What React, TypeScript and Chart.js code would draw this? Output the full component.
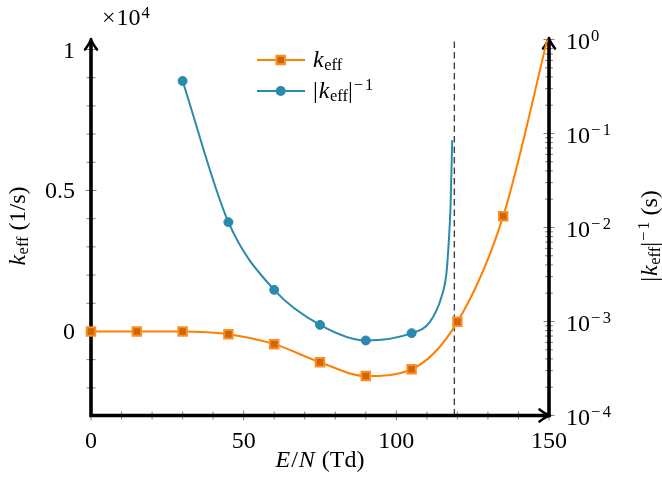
import React, { useEffect, useRef } from "react";
import { Chart, registerables } from "chart.js";

Chart.register(...registerables);

// ---- data ----
// reduced electric field E/N (Td) for k_eff samples
const keffX = [0, 15, 30, 45, 60, 75, 90, 105, 120, 135, 150];
// k_eff in units of 10^4 1/s
const keffValues = [0, 0, 0, -0.01, -0.045, -0.109, -0.158, -0.134, 0.034, 0.409, 1.06];
// E/N samples for |k_eff|^-1 (the last ones trace the steep rise before the zero crossing)
const invX = [30, 45, 60, 75, 90, 105, 111, 114.8, 116.4, 117.2, 117.75, 118.3];
// |k_eff|^-1 in seconds
const invValues = [0.362, 0.0114, 0.00217, 0.00092, 0.000628, 0.000751, 0.00099, 0.00183, 0.00325, 0.0073, 0.0166, 0.085];
// E/N values that carry a circle marker on the |k_eff|^-1 curve
const invMarkedX = [30, 45, 60, 75, 90, 105];
// vertical dashed line position (E/N where k_eff crosses zero)
const crossingX = 119;

const xMajorTicks = [0, 50, 100, 150];
const xMinorTicks = [10, 20, 30, 40, 60, 70, 80, 90, 110, 120, 130, 140];
const leftMajorTicks = [0, 0.5, 1];
const leftTickLabels = ["0", "0.5", "1"];
const leftMinorTicks = [-0.2, -0.1, 0.1, 0.2, 0.3, 0.4, 0.6, 0.7, 0.8, 0.9];
const rightExponents = [-4, -3, -2, -1, 0];

const ORANGE = "#ff8000";
const ORANGE_FILL = "#cc6600";
const ORANGE_EDGE = "#ff8c26";
const BLUE = "#2a8aad";

const F = 24;
const FS = 16.5;
const FAM = `"Liberation Serif", "Times New Roman", Times, serif`;
const RM = `${F}px ${FAM}`;
const IT = `italic ${F}px ${FAM}`;
const SM = `${FS}px ${FAM}`;

type Seg = { t: string; font: string; dy?: number; gap?: number };

function richWidth(ctx: CanvasRenderingContext2D, segs: Seg[]) {
  let w = 0;
  for (const s of segs) {
    ctx.font = s.font;
    w += ctx.measureText(s.t).width + (s.gap || 0);
  }
  return w;
}

function drawRich(ctx: CanvasRenderingContext2D, segs: Seg[], x: number, y: number) {
  let cx = x;
  for (const s of segs) {
    ctx.font = s.font;
    ctx.fillText(s.t, cx, y + (s.dy || 0));
    cx += ctx.measureText(s.t).width + (s.gap || 0);
  }
}

function arrowUp(ctx: CanvasRenderingContext2D, x: number, tipY: number) {
  ctx.beginPath();
  ctx.moveTo(x - 6, tipY + 10.5);
  ctx.quadraticCurveTo(x - 1, tipY + 4, x, tipY);
  ctx.quadraticCurveTo(x + 1, tipY + 4, x + 6, tipY + 10.5);
  ctx.stroke();
}

function arrowRight(ctx: CanvasRenderingContext2D, tipX: number, y: number) {
  ctx.beginPath();
  ctx.moveTo(tipX - 10.5, y - 6);
  ctx.quadraticCurveTo(tipX - 4, y - 1, tipX, y);
  ctx.quadraticCurveTo(tipX - 4, y + 1, tipX - 10.5, y + 6);
  ctx.stroke();
}

const decoPlugin = {
  id: "deco",
  beforeDatasetsDraw(chart: any) {
    const { ctx, chartArea: a, scales } = chart;
    const xs = scales.x;
    const yl = scales.y;
    const yr = scales.y2;
    ctx.save();

    // dashed vertical line
    const dx = xs.getPixelForValue(crossingX);
    ctx.strokeStyle = "#404040";
    ctx.lineWidth = 1.4;
    ctx.setLineDash([6.5, 4]);
    ctx.beginPath();
    ctx.moveTo(dx, a.top + 2);
    ctx.lineTo(dx, a.bottom);
    ctx.stroke();
    ctx.setLineDash([]);

    // ticks
    ctx.strokeStyle = "#808080";
    ctx.lineWidth = 1;
    const hTick = (x: number, y: number, l: number) => {
      ctx.beginPath();
      ctx.moveTo(x - l, y);
      ctx.lineTo(x + l, y);
      ctx.stroke();
    };
    const vTick = (x: number, y: number, l: number) => {
      ctx.beginPath();
      ctx.moveTo(x, y - l);
      ctx.lineTo(x, y + l);
      ctx.stroke();
    };
    for (const v of xMajorTicks) vTick(xs.getPixelForValue(v), a.bottom, 5);
    for (const v of xMinorTicks) vTick(xs.getPixelForValue(v), a.bottom, 4);
    for (const v of leftMajorTicks) hTick(a.left, yl.getPixelForValue(v), 5.5);
    for (const v of leftMinorTicks) hTick(a.left, yl.getPixelForValue(v), 4.5);
    for (const e of rightExponents) {
      hTick(a.right, yr.getPixelForValue(Math.pow(10, e)), 5.5);
      if (e < 0) {
        for (let m = 2; m <= 9; m++) hTick(a.right, yr.getPixelForValue(m * Math.pow(10, e)), 4);
      }
    }

    // axis lines
    ctx.strokeStyle = "#000";
    ctx.lineWidth = 3.6;
    ctx.lineCap = "butt";
    ctx.beginPath();
    ctx.moveTo(a.left, a.bottom + 1.8);
    ctx.lineTo(a.left, a.top + 2);
    ctx.moveTo(a.left - 1.8, a.bottom);
    ctx.lineTo(a.right - 2, a.bottom);
    ctx.moveTo(a.right, a.bottom + 1.8);
    ctx.lineTo(a.right, a.top + 2);
    ctx.stroke();
    ctx.lineWidth = 2.6;
    ctx.lineCap = "round";
    ctx.lineJoin = "round";
    arrowUp(ctx, a.left, a.top - 0.5);
    arrowUp(ctx, a.right, a.top - 1.5);
    arrowRight(ctx, a.right + 1, a.bottom);

    // tick labels
    ctx.fillStyle = "#000";
    ctx.textBaseline = "alphabetic";
    ctx.font = RM;
    ctx.textAlign = "center";
    for (const v of xMajorTicks) ctx.fillText(String(v), xs.getPixelForValue(v), 447.5);
    ctx.textAlign = "right";
    leftMajorTicks.forEach((v, i) => ctx.fillText(leftTickLabels[i], 75, yl.getPixelForValue(v) + 8));
    ctx.textAlign = "left";
    for (const e of rightExponents) {
      const py = yr.getPixelForValue(Math.pow(10, e));
      const segs: Seg[] = [{ t: "10", font: RM, gap: 1 }];
      if (e < 0) {
        segs.push({ t: "\u2212", font: SM, dy: -8.5, gap: 2.5 });
        segs.push({ t: String(-e), font: SM, dy: -8.5 });
      } else {
        segs.push({ t: String(e), font: SM, dy: -8.5 });
      }
      drawRich(ctx, segs, 566, py + 9.5);
    }

    // ×10^4
    drawRich(ctx, [{ t: "\u00d7", font: RM, gap: 1 }, { t: "10", font: RM, gap: 1 }, { t: "4", font: SM, dy: -7.5 }], 102, 25);

    // x title
    const xt: Seg[] = [
      { t: "E", font: IT, gap: 1 },
      { t: "/", font: RM, gap: 1 },
      { t: "N", font: IT, gap: 1 },
      { t: " (Td)", font: RM },
    ];
    drawRich(ctx, xt, (a.left + a.right) / 2 - richWidth(ctx, xt) / 2, 467);

    // left title
    const lt: Seg[] = [
      { t: "k", font: IT, gap: 0.5 },
      { t: "eff", font: SM, dy: 3 },
      { t: " (1/s)", font: RM },
    ];
    ctx.save();
    ctx.translate(24.5, 226);
    ctx.rotate(-Math.PI / 2);
    drawRich(ctx, lt, -richWidth(ctx, lt) / 2, 0);
    ctx.restore();

    // right title
    const rt: Seg[] = [
      { t: "|", font: RM, gap: 1 },
      { t: "k", font: IT, gap: 0.5 },
      { t: "eff", font: SM, dy: 3 },
      { t: "|", font: RM, gap: 1 },
      { t: "\u2212", font: SM, dy: -8.5, gap: 2 },
      { t: "1", font: SM, dy: -8.5 },
      { t: " (s)", font: RM },
    ];
    ctx.save();
    ctx.translate(657, 236);
    ctx.rotate(-Math.PI / 2);
    drawRich(ctx, rt, -richWidth(ctx, rt) / 2, 0);
    ctx.restore();

    ctx.restore();
  },
  afterDatasetsDraw(chart: any) {
    const { ctx } = chart;
    ctx.save();
    // legend row 1
    ctx.strokeStyle = ORANGE;
    ctx.lineWidth = 2;
    ctx.beginPath();
    ctx.moveTo(257, 60);
    ctx.lineTo(305, 60);
    ctx.stroke();
    ctx.fillStyle = ORANGE_FILL;
    ctx.strokeStyle = ORANGE_EDGE;
    ctx.lineWidth = 2;
    ctx.beginPath();
    ctx.rect(280.7 - 4.2, 60 - 4.2, 8.4, 8.4);
    ctx.fill();
    ctx.stroke();
    // legend row 2
    ctx.strokeStyle = BLUE;
    ctx.lineWidth = 2;
    ctx.beginPath();
    ctx.moveTo(257, 91);
    ctx.lineTo(305, 91);
    ctx.stroke();
    ctx.fillStyle = BLUE;
    ctx.beginPath();
    ctx.arc(280.7, 91, 5, 0, Math.PI * 2);
    ctx.fill();

    ctx.fillStyle = "#000";
    ctx.textAlign = "left";
    ctx.textBaseline = "alphabetic";
    drawRich(ctx, [{ t: "k", font: IT, gap: 0.5 }, { t: "eff", font: SM, dy: 3 }], 313, 67);
    drawRich(
      ctx,
      [
        { t: "|", font: RM, gap: 1 },
        { t: "k", font: IT, gap: 0.5 },
        { t: "eff", font: SM, dy: 3 },
        { t: "|", font: RM, gap: 1 },
        { t: "\u2212", font: SM, dy: -8.5, gap: 2 },
        { t: "1", font: SM, dy: -8.5 },
      ],
      313,
      98
    );
    ctx.restore();
  },
};

export default function App() {
  const ref = useRef<HTMLCanvasElement | null>(null);
  useEffect(() => {
    if (!ref.current) return;
    const chart = new Chart(ref.current, {
      type: "line",
      data: {
        datasets: [
          {
            label: "k_eff",
            data: keffX.map((x, i) => ({ x, y: keffValues[i] })),
            xAxisID: "x",
            yAxisID: "y",
            borderColor: ORANGE,
            borderWidth: 2,
            cubicInterpolationMode: "monotone",
            pointStyle: "rect",
            pointRadius: 6,
            pointHoverRadius: 6,
            pointBackgroundColor: ORANGE_FILL,
            pointBorderColor: ORANGE_EDGE,
            pointBorderWidth: 2,
            clip: { left: 10, top: 0, right: 0, bottom: 10 } as any,
            order: 2,
          },
          {
            label: "|k_eff|^-1",
            data: invX.map((x, i) => ({ x, y: invValues[i] })),
            xAxisID: "x",
            yAxisID: "y2",
            borderColor: BLUE,
            borderWidth: 2,
            cubicInterpolationMode: "monotone",
            pointStyle: "circle",
            pointRadius: (c: any) => (c.raw && invMarkedX.includes(c.raw.x) ? 4.5 : 0),
            pointHoverRadius: (c: any) => (c.raw && invMarkedX.includes(c.raw.x) ? 4.5 : 0),
            pointBackgroundColor: BLUE,
            pointBorderColor: BLUE,
            pointBorderWidth: 1,
            clip: { left: 10, top: 0, right: 0, bottom: 10 } as any,
            order: 1,
          },
        ],
      },
      options: {
        animation: false,
        responsive: false,
        devicePixelRatio: 1,
        events: [],
        layout: { padding: { left: 91, right: 662 - 549, top: 39.5, bottom: 490 - 415.5 } },
        plugins: { legend: { display: false }, tooltip: { enabled: false } },
        scales: {
          x: { type: "linear", min: 0, max: 150, display: false },
          y: { type: "linear", min: -0.2981, max: 1.0355, display: false },
          y2: { type: "logarithmic", min: 1e-4, max: 1, display: false },
        },
      },
      plugins: [decoPlugin],
    });
    let alive = true;
    if ((document as any).fonts && (document as any).fonts.load) {
      Promise.all([
        (document as any).fonts.load(RM),
        (document as any).fonts.load(IT),
        (document as any).fonts.load(SM),
      ])
        .then(() => {
          if (alive) chart.draw();
        })
        .catch(() => {});
    }
    return () => {
      alive = false;
      chart.destroy();
    };
  }, []);
  return (
    <canvas
      ref={ref}
      width={662}
      height={490}
      style={{ position: "absolute", left: 0, top: 0, width: 662, height: 490 }}
    />
  );
}
